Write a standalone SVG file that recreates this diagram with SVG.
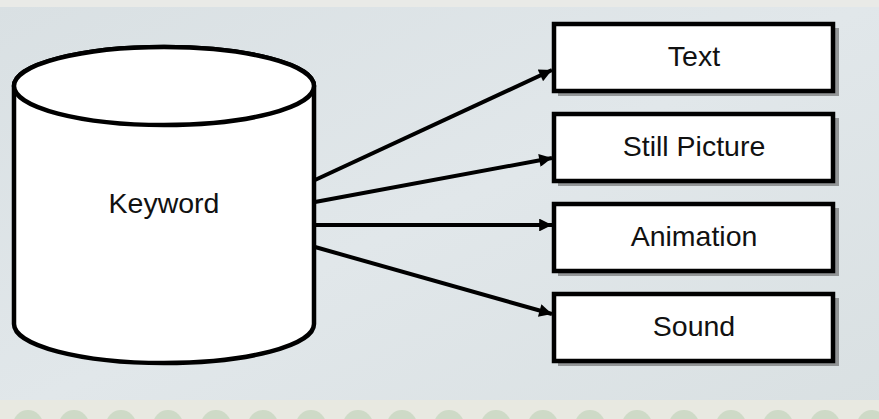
<svg xmlns="http://www.w3.org/2000/svg" width="879" height="419" viewBox="0 0 879 419">
<style>
.box{fill:#ffffff;stroke:#000;stroke-width:4.5}
.shadow{fill:#555;opacity:0.55}
.lbl{font-family:"Liberation Sans",Arial,sans-serif;font-size:28.5px;fill:#111;text-anchor:middle}
.conn{stroke:#000;stroke-width:4;fill:none}
.cyl{fill:#fff;stroke:#000;stroke-width:4.5}
.dot{fill:#bdd0b6;opacity:0.6}
</style>
<defs>
<marker id="ah" viewBox="0 0 10 10" refX="10" refY="5" markerWidth="4" markerHeight="3.2" orient="auto" markerUnits="strokeWidth">
<path d="M0,0 L10,5 L0,10 Z" fill="#000"/>
</marker>
<linearGradient id="bg" x1="0" y1="0" x2="1" y2="1">
<stop offset="0" stop-color="#d9e0e3"/>
<stop offset="0.5" stop-color="#e1e7ea"/>
<stop offset="1" stop-color="#d9e0e2"/>
</linearGradient>
</defs>
<rect x="0" y="0" width="879" height="419" fill="url(#bg)"/>
<rect x="0" y="0" width="879" height="7" fill="#e9eae7"/>
<rect x="0" y="400" width="879" height="19" fill="#e8e9e1"/>
<g id="bottom-dots">
<circle class="dot" cx="28" cy="425" r="15"/>
<circle class="dot" cx="74" cy="425" r="15"/>
<circle class="dot" cx="121" cy="425" r="15"/>
<circle class="dot" cx="168" cy="425" r="15"/>
<circle class="dot" cx="216" cy="425" r="15"/>
<circle class="dot" cx="263" cy="425" r="15"/>
<circle class="dot" cx="311" cy="425" r="15"/>
<circle class="dot" cx="358" cy="425" r="15"/>
<circle class="dot" cx="402" cy="425" r="15"/>
<circle class="dot" cx="449" cy="425" r="15"/>
<circle class="dot" cx="496" cy="425" r="15"/>
<circle class="dot" cx="543" cy="425" r="15"/>
<circle class="dot" cx="590" cy="425" r="15"/>
<circle class="dot" cx="637" cy="425" r="15"/>
<circle class="dot" cx="684" cy="425" r="15"/>
<circle class="dot" cx="731" cy="425" r="15"/>
<circle class="dot" cx="778" cy="425" r="15"/>
<circle class="dot" cx="825" cy="425" r="15"/>
<circle class="dot" cx="872" cy="425" r="15"/>
</g>
<g id="keyword">
<path class="cyl" d="M14,86 L14,324 A150,39 0 0 0 314,324 L314,86 A150,39 0 0 0 14,86 Z"/>
<ellipse cx="164" cy="86" rx="150" ry="39" fill="#fff" stroke="#000" stroke-width="4.5"/>
<text class="lbl" x="164" y="213">Keyword</text>
</g>
<g id="connectors">
<line class="conn" x1="315" y1="180" x2="552" y2="70" marker-end="url(#ah)"/>
<line class="conn" x1="315" y1="202" x2="552" y2="158" marker-end="url(#ah)"/>
<line class="conn" x1="315" y1="225" x2="552" y2="225" marker-end="url(#ah)"/>
<line class="conn" x1="315" y1="247" x2="552" y2="314" marker-end="url(#ah)"/>
</g>
<g id="text">
<rect class="shadow" x="558" y="28" width="281" height="68"/>
<rect class="box" x="554" y="24" width="279" height="67"/>
<text class="lbl" x="694" y="66">Text</text>
</g>
<g id="still-picture">
<rect class="shadow" x="558" y="118" width="281" height="68"/>
<rect class="box" x="554" y="114" width="279" height="67"/>
<text class="lbl" x="694" y="156">Still Picture</text>
</g>
<g id="animation">
<rect class="shadow" x="558" y="208" width="281" height="68"/>
<rect class="box" x="554" y="204" width="279" height="67"/>
<text class="lbl" x="694" y="246">Animation</text>
</g>
<g id="sound">
<rect class="shadow" x="558" y="298" width="281" height="68"/>
<rect class="box" x="554" y="294" width="279" height="67"/>
<text class="lbl" x="694" y="336">Sound</text>
</g>
</svg>
